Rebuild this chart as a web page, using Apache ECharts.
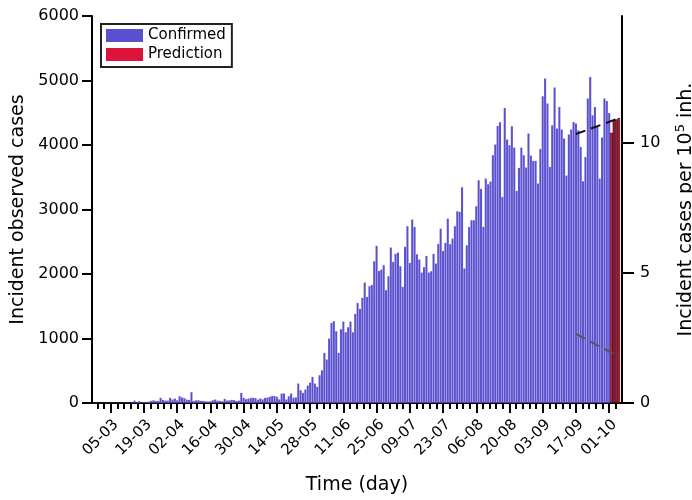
<!DOCTYPE html>
<html><head><meta charset="utf-8">
<script src="https://cdn.jsdelivr.net/npm/echarts@6/dist/echarts.min.js"></script>
<style>html,body{margin:0;padding:0;background:#fff}#c{width:692px;height:500px}</style>
</head><body><div id="c"></div>
<script>
// day 0 = 05-03 (5 March 2020)
const originUTC = Date.UTC(2020, 2, 5);
const firstDay = -7;
const confirmed = [
  0, 1, 0, 2, 1, 3, 2,
  3, 5, 2, 6, 4, 8, 6, 10, 7, 12,
  40, 14, 31, 12, 18, 20, 22, 36, 46, 36,
  36, 83, 52, 41, 41, 83, 57, 72, 45, 108,
  88, 78, 57, 50, 171, 36, 46, 46, 36, 36,
  30, 25, 30, 46, 57, 40, 36, 30, 67, 40,
  46, 52, 50, 35, 40, 160, 83, 62, 72, 80,
  85, 80, 55, 72, 60, 83, 88, 98, 113, 113,
  100, 60, 150, 150, 57, 108, 150, 83, 90,
  305, 201, 160, 212, 274, 320, 408, 305, 253, 434, 511,
  780, 677, 1002, 1245, 1271, 1116, 780, 1147, 1266, 1100,
  1178, 1266, 1100, 1385, 1555, 1462, 1633, 1870, 1648, 1814,
  1834, 2201, 2439, 2051, 2072, 2139, 1752, 1969, 2413, 2191,
  2315, 2335, 2124, 1803, 2423, 2744, 2175, 2847, 2733, 2310,
  2227, 2025, 2108, 2284, 2025, 2046, 2315, 2165, 2470, 2707,
  2361, 2485, 2862, 2465, 2552, 2744, 2976, 2966, 3348, 2088,
  2449, 2733, 2837, 2837, 3054, 3457, 3322, 2733, 3483, 3395,
  3436, 3844, 4010, 4299, 4356, 3198, 4578, 4087, 3999, 4294,
  3963, 3291, 3648, 3963, 3844, 3653, 4180, 3839, 3757, 3757,
  3405, 3942, 4759, 5033, 4645, 3663, 4309, 4893, 4258, 4593,
  4242, 4103, 3529, 4165, 4242, 4361, 4335, 4232, 3973, 3441,
  3818, 4723, 5059, 4464, 4593, 4284, 3483, 4118, 4723, 4686,
  4500
];
const predictionFirstDay = 211;
const prediction = [4190, 4387, 4397, 4418];
const trendDays = [196, 214.5];
const trendUpper = [4170, 4420];
const trendLower = [1070, 713];
const population = 40.31e6;
const leftTicks = [0, 1000, 2000, 3000, 4000, 5000, 6000];
const rightTicks = [0, 5, 10];
const majorTickDays = [0, 14, 28, 42, 56, 70, 84, 98, 112, 126, 140, 154, 168, 182, 196, 210];
const xMin = -7.9, xMax = 215.4;

const minorTickDays = [];
for (let k = -2; k * 2.8 <= xMax; k++) minorTickDays.push(+(k * 2.8).toFixed(2));

function dayLabel(v) {
  const d = new Date(originUTC + v * 86400000);
  const p = n => (n < 10 ? '0' : '') + n;
  return p(d.getUTCDate()) + '-' + p(d.getUTCMonth() + 1);
}

const FONT = 'DejaVu Sans';
const blue = '#5a4fcf';
const red = '#dc143c';

const chart = echarts.init(document.getElementById('c'), null, {renderer: 'canvas'});
chart.setOption({
  animation: false,
  backgroundColor: '#fff',
  textStyle: {fontFamily: FONT, color: '#000'},
  grid: {left: 92, top: 16, width: 530, height: 387, containLabel: false, outerBoundsMode: 'none'},
  legend: {
    orient: 'vertical', left: 101, top: 24,
    padding: [4, 6, 5, 5], itemGap: 4, itemWidth: 37, itemHeight: 13,
    borderColor: '#222', borderWidth: 2, borderRadius: 0,
    textStyle: {fontFamily: FONT, fontSize: 15, color: '#000'},
    data: [
      {name: 'Confirmed', icon: 'rect', itemStyle: {color: blue, borderWidth: 0}},
      {name: 'Prediction', icon: 'rect', itemStyle: {color: red, borderWidth: 0}}
    ]
  },
  xAxis: [{
    type: 'value', min: xMin, max: xMax,
    name: 'Time (day)', nameLocation: 'middle', nameGap: 73,
    nameTextStyle: {fontFamily: FONT, fontSize: 19, color: '#000'},
    axisLine: {show: true, onZero: false, lineStyle: {color: '#000', width: 2}},
    axisTick: {show: true, customValues: majorTickDays, length: 10, lineStyle: {color: '#000', width: 2}},
    axisLabel: {customValues: majorTickDays, rotate: 45, fontSize: 15, color: '#000', fontFamily: FONT,
      margin: 14, verticalAlign: 'top', formatter: dayLabel},
    splitLine: {show: false}
  }, {
    type: 'value', min: xMin, max: xMax, position: 'bottom',
    axisLine: {show: false, onZero: false},
    axisTick: {show: true, customValues: minorTickDays, length: 6, lineStyle: {color: '#000', width: 2}},
    axisLabel: {show: false},
    splitLine: {show: false}
  }],
  yAxis: [{
    type: 'value', min: 0, max: 6000, interval: 1000, position: 'left',
    name: 'Incident observed cases', nameLocation: 'middle', nameGap: 63, nameRotate: 90,
    nameTextStyle: {fontFamily: FONT, fontSize: 19, color: '#000'},
    axisLine: {show: true, onZero: false, lineStyle: {color: '#000', width: 2}},
    axisTick: {show: true, customValues: leftTicks, length: 10, lineStyle: {color: '#000', width: 2}},
    axisLabel: {customValues: leftTicks, fontSize: 16, color: '#000', fontFamily: FONT, margin: 13, formatter: v => String(v)},
    splitLine: {show: false}
  }, {
    type: 'value', min: 0, max: 6000 / population * 1e5, position: 'right',
    name: 'Incident cases per 10{sup|5} inh.', nameLocation: 'middle', nameGap: 52, nameRotate: 90,
    nameTextStyle: {fontFamily: FONT, fontSize: 19, color: '#000',
      rich: {sup: {fontFamily: FONT, fontSize: 13, color: '#000', padding: [0, 0, 11, 0]}}},
    axisLine: {show: true, onZero: false, lineStyle: {color: '#000', width: 2}},
    axisTick: {show: true, customValues: rightTicks, length: 12, lineStyle: {color: '#000', width: 2}},
    axisLabel: {customValues: rightTicks, fontSize: 16, color: '#000', fontFamily: FONT, margin: 18, formatter: v => String(v)},
    splitLine: {show: false}
  }],
  series: [{
    name: 'Confirmed', type: 'bar', xAxisIndex: 0, yAxisIndex: 0,
    barWidth: 2.5, barGap: '-100%',
    itemStyle: {color: blue, borderColor: 'rgba(255,255,255,0.2)', borderWidth: 0.4},
    data: confirmed.map((v, i) => [firstDay + i, v])
  }, {
    name: 'Prediction', type: 'bar', xAxisIndex: 0, yAxisIndex: 0,
    barWidth: 2.5, barGap: '-100%',
    itemStyle: {color: red, borderColor: '#000', borderWidth: 0.6},
    data: prediction.map((v, i) => [predictionFirstDay + i, v])
  }, {
    type: 'line', xAxisIndex: 0, yAxisIndex: 0, symbol: 'none', silent: true, z: 5,
    lineStyle: {color: '#111', width: 2, type: [10, 6]},
    data: trendDays.map((d, i) => [d, trendUpper[i]])
  }, {
    type: 'line', xAxisIndex: 0, yAxisIndex: 0, symbol: 'none', silent: true, z: 5,
    lineStyle: {color: '#555', width: 2, type: [10, 6]},
    data: trendDays.map((d, i) => [d, trendLower[i]])
  }]
});
</script></body></html>
